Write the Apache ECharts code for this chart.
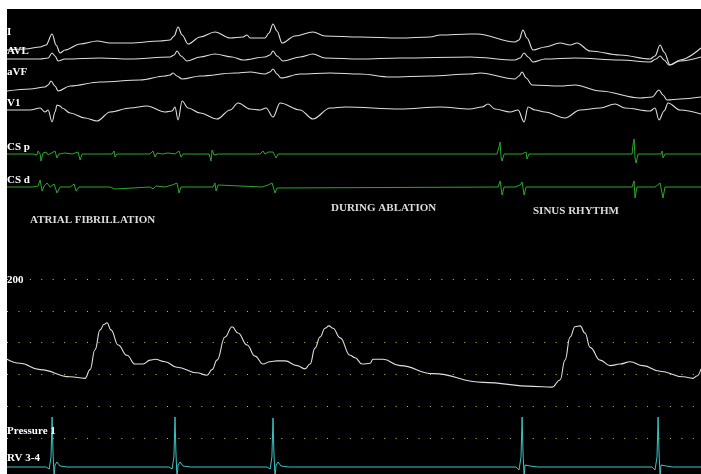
<!DOCTYPE html>
<html>
<head>
<meta charset="utf-8">
<style>
  html, body { margin: 0; padding: 0; background: #fff; }
  #chart { width: 701px; height: 474px; }
</style>
<script src="https://cdn.jsdelivr.net/npm/echarts@6/dist/echarts.min.js"></script>
</head>
<body>
<div id="chart"></div>
<script>
// Time in ms. Surface / intracardiac amplitudes in mV relative to each channel's baseline.
const leadI = [[0,-0.06],[99,-0.04],[182,0],[215,0.04],[248,0.26],[270,0.04],[292,-0.12],[319,-0.06],[402,0.06],[495,0.12],[567,0.08],[677,0.08],[842,0.12],[897,0.14],[919,0.22],[941,0.40],[963,0.24],[996,0.06],[1062,0.20],[1144,0.30],[1227,0.18],[1298,0.20],[1320,0.24],[1337,0.18],[1419,0.18],[1441,0.28],[1463,0.46],[1485,0.32],[1513,0.08],[1584,0.22],[1683,0.30],[1749,0.22],[1942,0.20],[2162,0.18],[2327,0.20],[2382,0.24],[2547,0.26],[2585,0.26],[2794,0.10],[2816,0.14],[2838,0.34],[2860,0.18],[2893,-0.06],[2959,0],[3042,0.08],[3097,0.04],[3135,0.08],[3207,-0.08],[3372,-0.16],[3537,-0.24],[3564,-0.18],[3592,0.04],[3614,-0.10],[3647,-0.36],[3702,-0.26],[3817,-0.02]];

const leadAVL = [[0,0],[182,0],[226,0.02],[248,0.12],[264,0.06],[281,-0.04],[319,0],[512,0.02],[677,0],[897,0.04],[919,0.08],[935,0.16],[957,0.06],[990,-0.04],[1062,0.04],[1144,0.10],[1238,0.04],[1298,-0.02],[1419,0.04],[1447,0.08],[1463,0.16],[1485,0.06],[1518,-0.04],[1612,0.04],[1683,0.10],[1749,0.02],[1942,0],[2162,0.02],[2547,0.04],[2794,-0.02],[2822,0.02],[2844,0.12],[2866,0.04],[2893,-0.06],[2959,0],[3124,0.02],[3372,-0.02],[3537,-0.06],[3570,0],[3592,0.06],[3614,-0.02],[3641,-0.12],[3702,-0.04],[3817,0.04]];

const leadAVF = [[0,-0.22],[127,-0.18],[209,-0.14],[226,-0.10],[242,-0.02],[264,-0.12],[281,-0.22],[347,-0.12],[512,-0.04],[732,0],[869,0.08],[897,0.10],[913,0.14],[935,0.08],[963,0.02],[1062,0.08],[1254,0.14],[1337,0.16],[1419,0.12],[1447,0.16],[1463,0.22],[1485,0.12],[1507,0.04],[1612,0.12],[1777,0.14],[1942,0.12],[2107,0.06],[2327,0.08],[2547,0.12],[2602,0.14],[2794,0.02],[2816,0.08],[2833,0.16],[2855,0.04],[2888,-0.10],[3042,-0.12],[3124,-0.10],[3262,-0.22],[3482,-0.36],[3548,-0.34],[3586,-0.20],[3608,-0.30],[3630,-0.40],[3702,-0.38],[3817,-0.34]];

const leadV1 = [[0,0],[127,0],[182,0.04],[209,-0.04],[226,0],[248,-0.24],[264,-0.04],[275,0.10],[292,0.08],[303,0.04],[347,-0.06],[429,-0.16],[495,-0.22],[567,-0.04],[677,0.04],[770,0.08],[869,-0.04],[908,-0.02],[924,0.06],[941,-0.20],[963,0.18],[996,0.04],[1062,-0.06],[1155,-0.18],[1227,0],[1271,0.14],[1337,0.02],[1392,0],[1425,0.04],[1463,-0.14],[1502,0.14],[1612,0],[1683,-0.18],[1777,0.04],[1859,0.06],[2162,0.02],[2382,0.06],[2547,0.02],[2613,0.06],[2646,0.12],[2684,0.02],[2767,-0.04],[2811,0],[2844,-0.24],[2866,0.06],[2904,0],[2959,-0.04],[3069,-0.16],[3152,0],[3262,0.04],[3344,0.12],[3399,0.04],[3537,-0.02],[3564,0.04],[3586,-0.20],[3614,-0.02],[3636,0.14],[3702,0],[3817,-0.08]];

const csProximal = [[0,0],[143,0],[154,0.04],[165,-0.02],[171,0.06],[182,0],[187,-0.14],[198,0.02],[215,0.04],[226,-0.02],[237,0.02],[264,0.06],[275,-0.08],[286,0],[319,0.02],[358,0],[391,0.04],[402,-0.12],[413,0],[578,0],[589,0.06],[594,-0.06],[605,0],[787,0],[798,0.04],[803,0.06],[814,-0.06],[825,0.02],[853,0],[886,0.02],[924,0],[946,0.06],[957,-0.06],[968,0],[1111,0],[1122,-0.14],[1128,0.08],[1139,-0.02],[1150,0.02],[1161,0],[1392,0],[1408,0.06],[1419,0],[1436,0.04],[1447,0],[1463,0.04],[1480,-0.08],[1491,0],[2695,0],[2706,0.14],[2712,0.24],[2717,-0.06],[2723,-0.14],[2734,0],[2833,0],[2855,0.04],[2860,-0.10],[2871,0],[3438,0],[3443,0.18],[3449,0.30],[3454,-0.08],[3460,-0.18],[3471,0],[3597,0],[3603,0.06],[3608,-0.08],[3619,0],[3817,0]];

const csDistal = [[0,0],[138,0],[171,0.02],[182,0.14],[193,-0.08],[204,0.02],[220,0.08],[237,0],[259,0.06],[275,-0.12],[292,0],[347,0],[369,0.06],[380,-0.08],[396,0],[567,0],[578,0.04],[594,-0.04],[605,0],[787,0],[798,0.04],[803,-0.04],[820,0.02],[869,0],[908,0.04],[935,0.08],[946,-0.12],[957,0],[1133,0],[1144,0.08],[1150,-0.08],[1161,0.04],[1172,0],[1403,0],[1419,0.02],[1436,0.04],[1458,0.08],[1463,0.12],[1474,-0.12],[1485,-0.02],[1496,0],[2701,0],[2712,0.12],[2723,-0.16],[2734,0],[2794,0],[2822,0.04],[2833,0.10],[2844,-0.16],[2855,0],[3438,0],[3449,0.12],[3454,-0.22],[3465,0],[3564,0],[3592,0.08],[3603,0.10],[3608,-0.22],[3619,0],[3817,0]];

// Arterial pressure, mmHg
const pressure1 = [[0,99],[71,94],[182,86],[347,77],[429,75],[457,86],[484,111],[512,136],[534,143],[550,145],[572,136],[611,117],[660,104],[704,93],[748,93],[787,98],[814,99],[869,96],[935,89],[1045,82],[1100,79],[1128,86],[1155,98],[1199,127],[1238,140],[1271,132],[1320,117],[1364,103],[1408,93],[1447,96],[1485,97],[1529,97],[1595,91],[1639,87],[1667,93],[1694,113],[1722,127],[1749,138],[1771,141],[1793,138],[1832,126],[1887,104],[1914,101],[1953,93],[1997,94],[2013,99],[2068,99],[2162,91],[2343,81],[2618,70],[2893,65],[2998,64],[3042,73],[3069,98],[3097,127],[3124,140],[3152,141],[3179,132],[3207,114],[3262,98],[3317,91],[3372,93],[3427,96],[3498,91],[3592,84],[3718,77],[3773,75],[3795,78],[3817,87]];

const rv34 = [[0,0],[215,0],[232,-0.04],[242,0.2],[248,1.0],[253,0.3],[259,-0.2],[264,0.04],[275,0.1],[292,0.02],[330,0],[890,0],[908,-0.04],[918,0.2],[924,1.0],[929,0.3],[935,-0.2],[941,0.04],[952,0.1],[968,0.02],[1010,0],[1430,0],[1447,-0.04],[1457,0.2],[1463,0.98],[1468,0.3],[1474,-0.2],[1480,0.04],[1491,0.1],[1507,0.02],[1550,0],[2800,0],[2816,-0.06],[2827,0.2],[2833,1.0],[2838,0.3],[2844,-0.2],[2849,0.04],[2860,0.06],[2877,0.02],[2920,0],[3548,0],[3564,-0.06],[3575,0.2],[3581,1.0],[3586,0.3],[3592,-0.2],[3597,0.04],[3608,0.06],[3625,0.02],[3660,0],[3817,0]];

const channelNames = ['I', 'AVL', 'aVF', 'V1', 'CS p', 'CS d', 'Pressure 1', 'RV 3-4'];
const phaseLabels = ['ATRIAL FIBRILLATION', 'DURING ABLATION', 'SINUS RHYTHM'];
const pressureScaleLabel = '200';

// ---- layout ----
const T_MAX = 3817;          // ms across the sweep
const SERIF = '"Liberation Serif", "Times New Roman", serif';

// channel stack: baseline (mV on the stacked axis), colour, smoothing
const traces = [
  { name: 'I',      data: leadI,      base: 8.54, color: '#dedede', width: 1.1, smooth: 0.35 },
  { name: 'AVL',    data: leadAVL,    base: 8.30, color: '#dedede', width: 1.1, smooth: 0.35 },
  { name: 'aVF',    data: leadAVF,    base: 7.88, color: '#dedede', width: 1.1, smooth: 0.35 },
  { name: 'V1',     data: leadV1,     base: 7.28, color: '#dedede', width: 1.1, smooth: 0.35 },
  { name: 'CS p',   data: csProximal, base: 6.40, color: '#2aa82a', width: 1,   smooth: false },
  { name: 'CS d',   data: csDistal,   base: 5.74, color: '#2aa82a', width: 1,   smooth: false },
  { name: 'RV 3-4', data: rv34,       base: 0.14, color: '#3cc4c4', width: 1,   smooth: false }
];

// label anchors (px) for channel names, scale mark and phase annotations
const nameLayout = {
  'I': [7, 27], 'AVL': [7, 46], 'aVF': [7, 67], 'V1': [7, 98],
  'CS p': [7, 142], 'CS d': [7, 175], 'Pressure 1': [7, 426], 'RV 3-4': [7, 453]
};
const scaleLabelPos = [7, 275];
const phaseLayout = [[30, 215], [331, 203], [533, 206]];

const series = traces.map(tr => ({
  name: tr.name,
  type: 'line',
  xAxisIndex: 0,
  yAxisIndex: 0,
  data: tr.data.map(p => [p[0], +(p[1] + tr.base).toFixed(3)]),
  showSymbol: false,
  smooth: tr.smooth,
  smoothMonotone: 'x',
  lineStyle: { width: tr.width, color: tr.color },
  silent: true,
  z: 3
}));

series.push({
  name: 'Pressure 1',
  type: 'line',
  xAxisIndex: 1,
  yAxisIndex: 1,
  data: pressure1,
  showSymbol: false,
  smooth: 0.45,
  smoothMonotone: 'x',
  lineStyle: { width: 1.1, color: '#dedede' },
  silent: true,
  z: 4
});

const labelFont = 'bold 11px ' + SERIF;
const textEls = [];
channelNames.forEach(n => {
  const pos = nameLayout[n];
  textEls.push({
    type: 'text', x: pos[0], y: pos[1], z: 10, silent: true,
    style: { text: n, fill: '#ffffff', font: labelFont, align: 'left', verticalAlign: 'top' }
  });
});
textEls.push({
  type: 'text', x: scaleLabelPos[0], y: scaleLabelPos[1], z: 10, silent: true,
  style: { text: pressureScaleLabel, fill: '#ffffff', font: labelFont, align: 'left', verticalAlign: 'top' }
});
phaseLabels.forEach((t, i) => {
  textEls.push({
    type: 'text', x: phaseLayout[i][0], y: phaseLayout[i][1], z: 10, silent: true,
    style: { text: t, fill: '#dcdcdc', font: labelFont, align: 'left', verticalAlign: 'top' }
  });
});

const option = {
  animation: false,
  backgroundColor: '#ffffff',
  grid: [
    { left: 7, right: 0, top: 9, bottom: 0, show: true, backgroundColor: '#000000', borderWidth: 0 },
    { left: 7, right: 0, top: 279, bottom: 36, show: false }
  ],
  xAxis: [
    {
      type: 'value', gridIndex: 0, min: 0, max: T_MAX, interval: 500, position: 'top',
      axisLine: { show: false },
      axisTick: { show: true, inside: true, length: 3, lineStyle: { color: '#b0b0b0', width: 1 } },
      axisLabel: { show: false },
      splitLine: { show: false }
    },
    {
      type: 'value', gridIndex: 1, min: 0, max: T_MAX, show: false
    }
  ],
  yAxis: [
    { type: 'value', gridIndex: 0, min: 0, max: 9.3, show: false },
    {
      type: 'value', gridIndex: 1, min: 0, max: 200, interval: 40,
      axisLine: { show: false },
      axisTick: { show: false },
      axisLabel: { show: false },
      splitLine: {
        show: true,
        lineStyle: { color: '#c4c450', width: 1, type: [1, 10.43] }
      }
    }
  ],
  graphic: textEls,
  series: series
};

const chart = echarts.init(document.getElementById('chart'), null, { renderer: 'canvas' });
chart.setOption(option);
</script>
</body>
</html>
